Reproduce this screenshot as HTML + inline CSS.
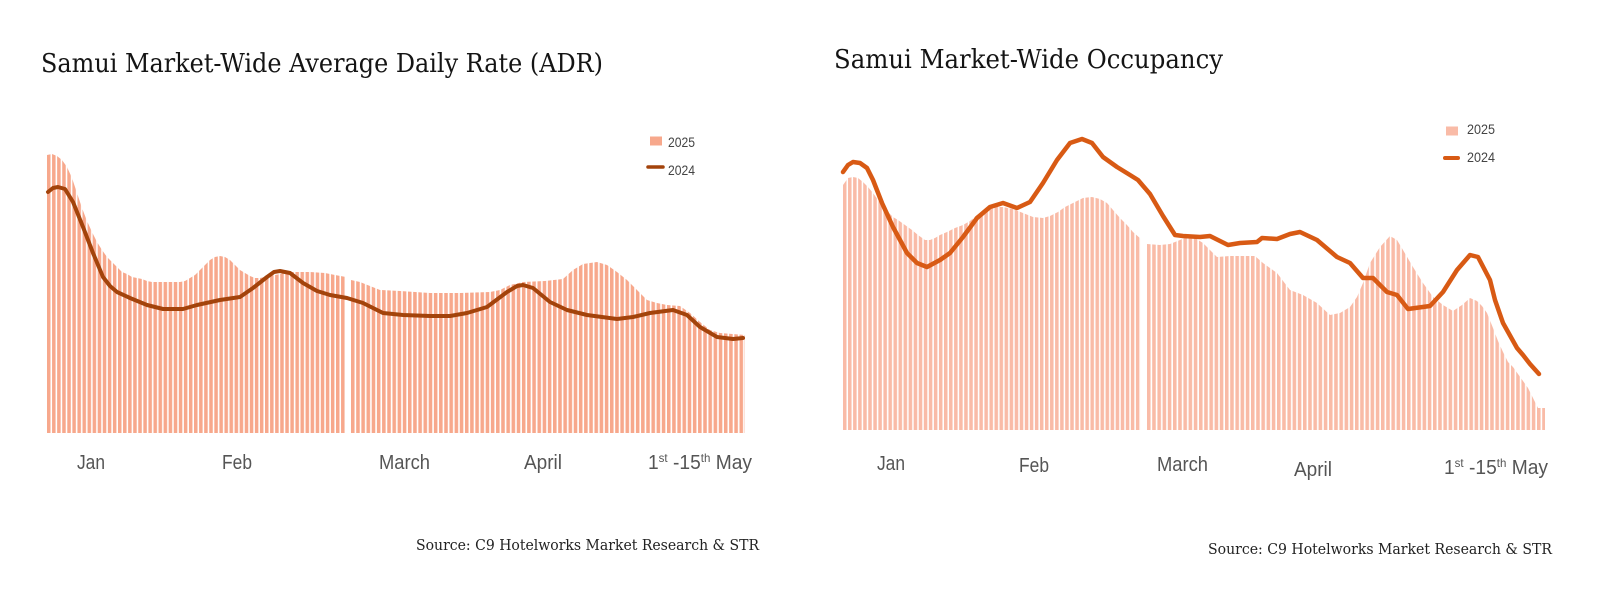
<!DOCTYPE html>
<html>
<head>
<meta charset="utf-8">
<style>
  html, body { margin: 0; padding: 0; background: #ffffff; }
  body { width: 1600px; height: 609px; overflow: hidden; }
  svg { display: block; }
  .title { font-family: "DejaVu Serif", "Liberation Serif", serif; font-size: 26px; fill: #141414; }
  .src { font-family: "DejaVu Serif", "Liberation Serif", serif; font-size: 15px; fill: #222222; }
  .lbl { font-family: "Liberation Sans", Arial, sans-serif; font-size: 20px; fill: #555555; }
  .leg { font-family: "Liberation Sans", Arial, sans-serif; font-size: 14px; fill: #444444; }
</style>
</head>
<body>
<svg width="1600" height="609" viewBox="0 0 1600 609" xmlns="http://www.w3.org/2000/svg">
  <defs>
    <pattern id="pLA" patternUnits="userSpaceOnUse" x="47" y="0" width="5.07" height="609">
      <rect x="0" y="0" width="3.5" height="609" fill="#f7a88c"/>
    </pattern>
    <pattern id="pLB" patternUnits="userSpaceOnUse" x="351" y="0" width="5.18" height="609">
      <rect x="0" y="0" width="3.55" height="609" fill="#f7a88c"/>
    </pattern>
    <pattern id="pRA" patternUnits="userSpaceOnUse" x="843" y="0" width="5.05" height="609">
      <rect x="0" y="0" width="3.5" height="609" fill="#f9bba7"/>
    </pattern>
    <pattern id="pRB" patternUnits="userSpaceOnUse" x="1147" y="0" width="5.2" height="609">
      <rect x="0" y="0" width="3.55" height="609" fill="#f9bba7"/>
    </pattern>
  </defs>

  <rect x="0" y="0" width="1600" height="609" fill="#ffffff"/>

  <!-- Titles -->
  <text class="title" x="41" y="72" textLength="562" lengthAdjust="spacingAndGlyphs">Samui Market-Wide Average Daily Rate (ADR)</text>
  <text class="title" x="834" y="68" textLength="389" lengthAdjust="spacingAndGlyphs">Samui Market-Wide Occupancy</text>

  <!-- LEFT CHART BARS (2025) -->
  <polygon fill="url(#pLA)" points="47,433 47,155 52,154 57,156 62,160 67,167 72,178 77,193 82,208 87,221 92,232 97,242 102,250 107,257 112,262 117,267 122,272 127,274 132,277 137,278 142,279 147,281 152,282 180,282 185,281 190,278 195,275 200,270 205,265 210,260 215,257 220,256 225,257 230,260 235,265 240,270 245,273 250,276 255,278 260,278 265,277 275,275 290,272 310,272 325,273 335,275 346,277 346,433"/>
  <polygon fill="url(#pLB)" points="351,433 351,280 360,282 370,286 380,290 400,291 430,293 460,293 490,292 500,290 510,285 523,282 545,281 563,279 573,270 583,264 597,262 607,265 617,272 627,280 637,290 647,300 657,303 667,305 680,306 690,313 700,322 710,330 720,333 745,335 745,433"/>

  <!-- LEFT LINE (2024) -->
  <polyline fill="none" stroke="#a3430b" stroke-width="4" stroke-linejoin="round" stroke-linecap="round"
    points="48,192 53,188 58,187 65,189 73,202 83,227 93,253 103,277 110,286 117,292 130,298 147,305 163,309 183,309 197,305 220,300 240,297 253,288 267,277 274,272 280,271 290,273 303,283 317,291 330,295 347,298 363,303 383,313 403,315 430,316 450,316 467,313 487,307 507,292 517,286 523,285 533,288 550,302 567,310 587,315 617,319 633,317 650,313 673,310 687,315 700,327 717,337 733,339 743,338"/>

  <!-- LEFT LEGEND -->
  <rect x="650" y="136.5" width="12" height="9" fill="#f7a88c"/>
  <text class="leg" x="668" y="147" textLength="27" lengthAdjust="spacingAndGlyphs">2025</text>
  <line x1="648" y1="167" x2="663" y2="167" stroke="#a3430b" stroke-width="3.5" stroke-linecap="round"/>
  <text class="leg" x="668" y="175" textLength="27" lengthAdjust="spacingAndGlyphs">2024</text>

  <!-- LEFT X LABELS -->
  <text class="lbl" x="77" y="469" textLength="28" lengthAdjust="spacingAndGlyphs">Jan</text>
  <text class="lbl" x="222" y="469" textLength="30" lengthAdjust="spacingAndGlyphs">Feb</text>
  <text class="lbl" x="379" y="469" textLength="51" lengthAdjust="spacingAndGlyphs">March</text>
  <text class="lbl" x="524" y="469" textLength="38" lengthAdjust="spacingAndGlyphs">April</text>
  <text class="lbl" x="648" y="469" textLength="104" lengthAdjust="spacingAndGlyphs">1<tspan font-size="12" dy="-7">st</tspan><tspan dy="7"> -15</tspan><tspan font-size="12" dy="-7">th</tspan><tspan dy="7"> May</tspan></text>

  <!-- LEFT SOURCE -->
  <text class="src" x="416" y="550" textLength="343" lengthAdjust="spacingAndGlyphs">Source: C9 Hotelworks Market Research &amp; STR</text>

  <!-- RIGHT CHART BARS (2025) -->
  <polygon fill="url(#pRA)" points="843,430 843,185 848,178 853,177 858,178 863,182 868,187 873,193 878,200 883,207 888,212 893,217 898,220 905,225 912,230 918,235 925,240 930,240 935,238 940,235 947,232 955,228 963,225 970,221 977,215 985,210 993,207 1003,207 1013,209 1023,213 1033,217 1043,218 1050,216 1058,212 1065,207 1073,203 1083,198 1092,197 1100,199 1107,203 1113,210 1120,218 1127,225 1133,232 1141,239 1141,430"/>
  <polygon fill="url(#pRB)" points="1147,430 1147,244 1160,245 1170,244 1180,240 1187,237 1195,238 1203,243 1210,250 1217,257 1230,256 1255,256 1263,263 1277,273 1290,290 1303,295 1317,303 1330,315 1340,313 1350,307 1357,297 1363,283 1370,263 1380,247 1390,236 1397,240 1403,250 1413,267 1423,283 1433,297 1443,305 1453,311 1462,305 1470,298 1477,301 1482,306 1487,313 1493,328 1498,341 1503,352 1508,362 1513,367 1518,374 1523,381 1528,388 1533,398 1538,408 1545,408 1545,430"/>

  <!-- RIGHT LINE (2024) -->
  <polyline fill="none" stroke="#d85a14" stroke-width="4.5" stroke-linejoin="round" stroke-linecap="round"
    points="843,172 848,165 853,162 860,163 867,168 873,180 882,203 893,227 907,253 917,263 927,267 940,260 950,253 963,237 977,218 990,207 1003,203 1017,208 1030,202 1043,183 1057,160 1070,143 1082,139 1092,143 1103,157 1117,167 1130,175 1138,180 1150,194 1163,216 1175,235 1183,236 1200,237 1210,236 1228,245 1240,243 1257,242 1262,238 1277,239 1290,234 1300,232 1317,240 1337,257 1350,263 1363,278 1373,278 1387,292 1397,295 1408,309 1430,306 1443,292 1457,270 1470,255 1478,257 1490,280 1495,300 1503,323 1517,348 1523,355 1530,364 1539,374"/>

  <!-- RIGHT LEGEND -->
  <rect x="1446" y="126.5" width="12" height="9" fill="#f9bba7"/>
  <text class="leg" x="1467" y="134" textLength="28" lengthAdjust="spacingAndGlyphs">2025</text>
  <line x1="1445" y1="158" x2="1458" y2="158" stroke="#d85a14" stroke-width="4" stroke-linecap="round"/>
  <text class="leg" x="1467" y="162" textLength="28" lengthAdjust="spacingAndGlyphs">2024</text>

  <!-- RIGHT X LABELS -->
  <text class="lbl" x="877" y="470" textLength="28" lengthAdjust="spacingAndGlyphs">Jan</text>
  <text class="lbl" x="1019" y="472" textLength="30" lengthAdjust="spacingAndGlyphs">Feb</text>
  <text class="lbl" x="1157" y="471" textLength="51" lengthAdjust="spacingAndGlyphs">March</text>
  <text class="lbl" x="1294" y="476" textLength="38" lengthAdjust="spacingAndGlyphs">April</text>
  <text class="lbl" x="1444" y="474" textLength="104" lengthAdjust="spacingAndGlyphs">1<tspan font-size="12" dy="-7">st</tspan><tspan dy="7"> -15</tspan><tspan font-size="12" dy="-7">th</tspan><tspan dy="7"> May</tspan></text>

  <!-- RIGHT SOURCE -->
  <text class="src" x="1208" y="554" textLength="344" lengthAdjust="spacingAndGlyphs">Source: C9 Hotelworks Market Research &amp; STR</text>
</svg>
</body>
</html>
